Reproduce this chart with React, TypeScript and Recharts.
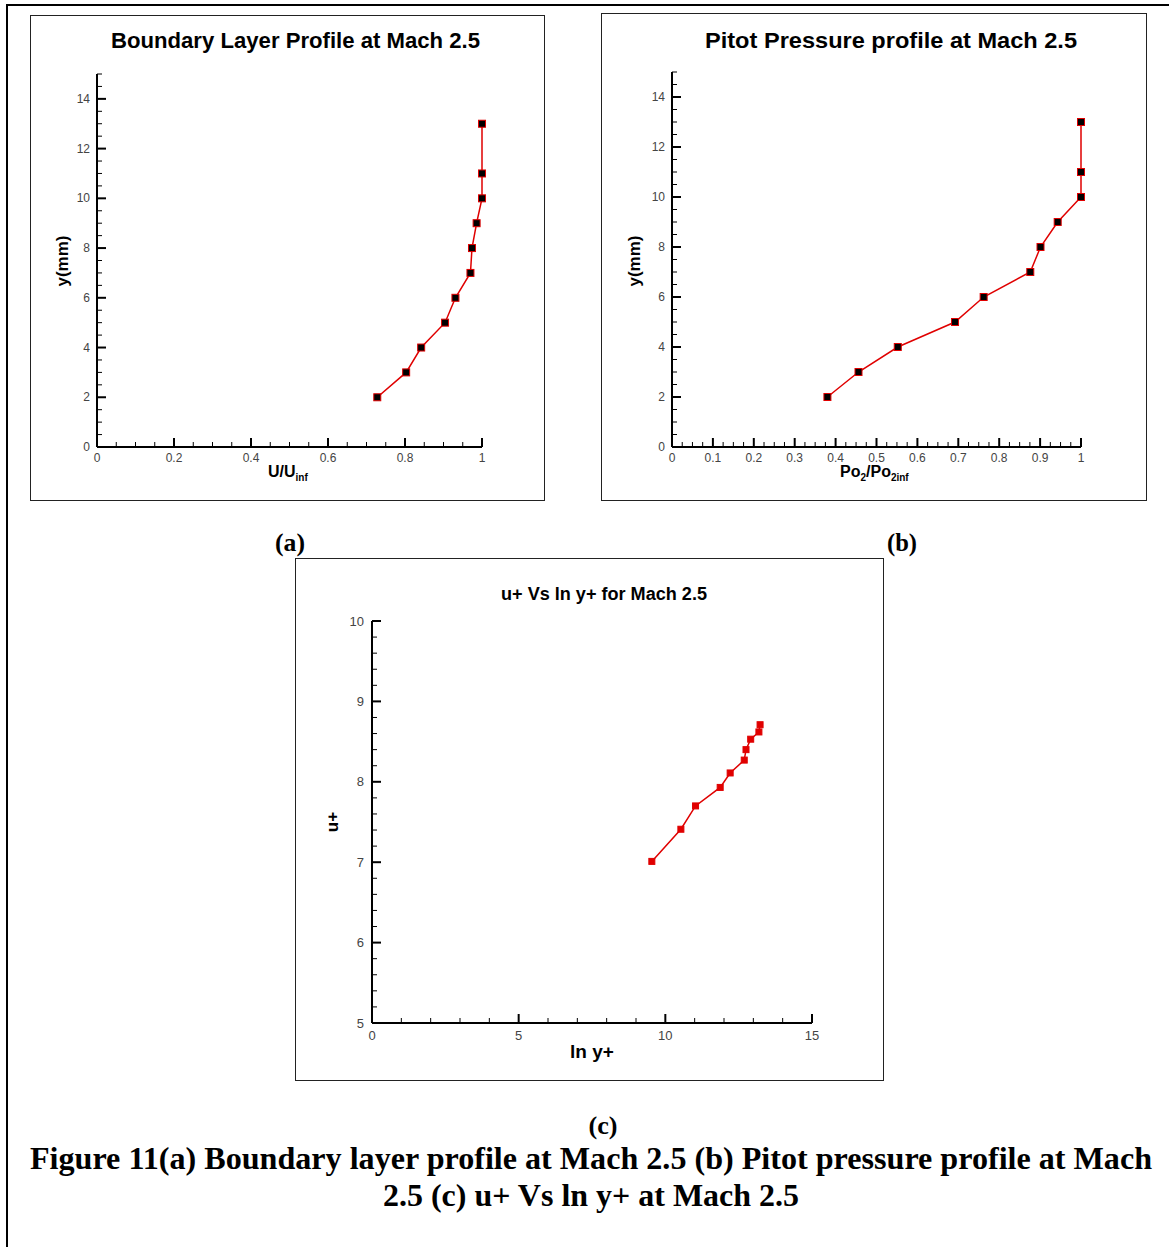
import React from 'react';
import { LineChart, Line, XAxis, YAxis } from 'recharts';

// ---------- data ----------
// (a) Boundary layer profile
const yMmA = [2, 3, 4, 5, 6, 7, 8, 9, 10, 11, 13];
const uRatioA = [0.728, 0.803, 0.842, 0.904, 0.931, 0.970, 0.974, 0.986, 1.0, 1.0, 1.0];
// (b) Pitot pressure profile
const yMmB = [2, 3, 4, 5, 6, 7, 8, 9, 10, 11, 13];
const pitotRatioB = [0.380, 0.456, 0.552, 0.692, 0.762, 0.876, 0.901, 0.943, 1.0, 1.0, 1.0];
// (c) u+ vs ln y+
const lnYPlusC = [9.54, 10.53, 11.03, 11.87, 12.21, 12.69, 12.75, 12.91, 13.19, 13.23];
const uPlusC = [7.01, 7.41, 7.70, 7.93, 8.11, 8.27, 8.40, 8.53, 8.62, 8.71];

// tick labels (major ticks)
const xMajorA = [0, 0.2, 0.4, 0.6, 0.8, 1];
const yMajorAB = [0, 2, 4, 6, 8, 10, 12, 14];
const xMajorB = [0, 0.1, 0.2, 0.3, 0.4, 0.5, 0.6, 0.7, 0.8, 0.9, 1];
const xMajorC = [0, 5, 10, 15];
const yMajorC = [5, 6, 7, 8, 9, 10];

const dataA = yMmA.map((y, i) => ({ x: uRatioA[i], y }));
const dataB = yMmB.map((y, i) => ({ x: pitotRatioB[i], y }));
const dataC = uPlusC.map((y, i) => ({ x: lnYPlusC[i], y }));

// minor tick positions (axis decoration only)
function steps(min: number, max: number, step: number): number[] {
  const out: number[] = [];
  const n = Math.round((max - min) / step);
  for (let i = 0; i <= n; i++) out.push(+(min + i * step).toFixed(6));
  return out;
}

const RED = '#e00000';
const SANS = '"Liberation Sans", Arial, sans-serif';
const SERIF = '"Liberation Serif", "Times New Roman", serif';

function fmt(v: number) {
  return String(+v.toFixed(4));
}

function makeTick(orient: 'x' | 'y', majors: number[], fontSize: number, off: number) {
  return (props: any) => {
    const { x, y, payload, index } = props;
    const v = payload.value as number;
    const isMajor = majors.some((m) => Math.abs(m - v) < 1e-6);
    const len = isMajor ? 9 : 5;
    if (orient === 'x') {
      return (
        <g key={'xt' + index}>
          <line x1={x} y1={y} x2={x} y2={y - len} stroke="#000" strokeWidth={isMajor ? 2 : 1} />
          {isMajor && (
            <text x={x} y={y + off} textAnchor="middle" dominantBaseline="central" fontSize={fontSize} fontFamily={SANS} fill="#444">
              {fmt(v)}
            </text>
          )}
        </g>
      );
    }
    return (
      <g key={'yt' + index}>
        <line x1={x} y1={y} x2={x + len} y2={y} stroke="#000" strokeWidth={isMajor ? 2 : 1} />
        {isMajor && (
          <text x={x - off} y={y} textAnchor="end" dominantBaseline="central" fontSize={fontSize} fontFamily={SANS} fill="#444">
            {fmt(v)}
          </text>
        )}
      </g>
    );
  };
}

const blackDot = (props: any) => (
  <rect key={'d' + props.index} x={props.cx - 3.5} y={props.cy - 3.5} width={7} height={7} fill="#000" stroke={RED} strokeWidth={1} />
);
const redDot = (props: any) => (
  <rect key={'r' + props.index} x={props.cx - 3} y={props.cy - 3} width={6} height={6} fill={RED} stroke={RED} strokeWidth={1} />
);

const abs = (left: number, top: number): React.CSSProperties => ({ position: 'absolute', left, top });

function CenterText(props: { x: number; y: number; size: number; bold?: boolean; family?: string; rotate?: boolean; children: React.ReactNode }) {
  return (
    <div
      style={{
        position: 'absolute',
        left: props.x,
        top: props.y,
        transform: `translate(-50%, -50%)${props.rotate ? ' rotate(-90deg)' : ''}`,
        fontSize: props.size,
        fontWeight: props.bold ? 'bold' : 'normal',
        fontFamily: props.family || SANS,
        whiteSpace: 'nowrap',
        lineHeight: 1,
        color: '#000',
      }}
    >
      {props.children}
    </div>
  );
}

type PanelProps = {
  left: number;
  top: number;
  width: number;
  height: number;
  margin: { top: number; right: number; bottom: number; left: number };
  data: { x: number; y: number }[];
  xDomain: [number, number];
  yDomain: [number, number];
  xTicks: number[];
  yTicks: number[];
  xMajor: number[];
  yMajor: number[];
  fontSize: number;
  xOff: number;
  yOff: number;
  dot: (p: any) => React.ReactElement;
};

function Panel(p: PanelProps) {
  return (
    <>
      <div style={{ ...abs(p.left, p.top), width: p.width, height: p.height, border: '1px solid #222', boxSizing: 'border-box' }} />
      <div style={{ ...abs(p.left, p.top) }}>
        <LineChart width={p.width} height={p.height} data={p.data} margin={p.margin}>
          <XAxis
            type="number"
            dataKey="x"
            domain={p.xDomain}
            ticks={p.xTicks}
            interval={0}
            tickSize={0}
            tickMargin={0}
            tickLine={false}
            axisLine={{ stroke: '#000', strokeWidth: 2 }}
            tick={makeTick('x', p.xMajor, p.fontSize, p.xOff)}
            height={30}
          />
          <YAxis
            type="number"
            dataKey="y"
            domain={p.yDomain}
            ticks={p.yTicks}
            interval={0}
            tickSize={0}
            tickMargin={0}
            tickLine={false}
            axisLine={{ stroke: '#000', strokeWidth: 2 }}
            tick={makeTick('y', p.yMajor, p.fontSize, p.yOff)}
            width={40}
          />
          <Line
            type="linear"
            dataKey="y"
            stroke={RED}
            strokeWidth={1.5}
            dot={p.dot}
            activeDot={false}
            isAnimationActive={false}
          />
        </LineChart>
      </div>
    </>
  );
}

function FitText(props: { x: number; y: number; size: number; len: number; family: string; children: string }) {
  return (
    <text
      x={props.x}
      y={props.y}
      textAnchor="middle"
      dominantBaseline="central"
      fontSize={props.size}
      fontWeight="bold"
      fontFamily={props.family}
      textLength={props.len}
      lengthAdjust="spacingAndGlyphs"
      fill="#000"
    >
      {props.children}
    </text>
  );
}

export default function App() {
  return (
    <div style={{ position: 'absolute', left: 0, top: 0, width: 1169, height: 1247, background: '#fff', overflow: 'hidden' }}>
      {/* page border (top and left) */}
      <div style={{ position: 'absolute', left: 6, top: 4, width: 1169, height: 2, background: '#000' }} />
      <div style={{ position: 'absolute', left: 6, top: 4, width: 2, height: 1247, background: '#000' }} />

      {/* (a) */}
      <Panel
        left={30}
        top={15}
        width={515}
        height={486}
        margin={{ top: 59, right: 63, bottom: 24, left: 27 }}
        data={dataA}
        xDomain={[0, 1]}
        yDomain={[0, 15]}
        xTicks={steps(0, 1, 0.05)}
        yTicks={steps(0, 15, 0.5)}
        xMajor={xMajorA}
        yMajor={yMajorAB}
        fontSize={12}
        xOff={11}
        yOff={7}
        dot={blackDot}
      />
      <CenterText x={62} y={261} size={17} bold rotate>y(mm)</CenterText>
      <div style={{ ...abs(268, 464), fontFamily: SANS, fontWeight: 'bold', fontSize: 16, lineHeight: 1, whiteSpace: 'nowrap' }}>
        U/U<sub style={{ fontSize: 10 }}>inf</sub>
      </div>

      {/* (b) */}
      <Panel
        left={601}
        top={13}
        width={546}
        height={488}
        margin={{ top: 59, right: 66, bottom: 24, left: 31 }}
        data={dataB}
        xDomain={[0, 1]}
        yDomain={[0, 15]}
        xTicks={steps(0, 1, 0.025)}
        yTicks={steps(0, 15, 0.5)}
        xMajor={xMajorB}
        yMajor={yMajorAB}
        fontSize={12}
        xOff={11}
        yOff={7}
        dot={blackDot}
      />
      <CenterText x={634} y={261} size={17} bold rotate>y(mm)</CenterText>
      <div style={{ ...abs(840, 464), fontFamily: SANS, fontWeight: 'bold', fontSize: 16, lineHeight: 1, whiteSpace: 'nowrap' }}>
        Po<sub style={{ fontSize: 10 }}>2</sub>/Po<sub style={{ fontSize: 10 }}>2inf</sub>
      </div>

      {/* (c) */}
      <Panel
        left={295}
        top={558}
        width={589}
        height={523}
        margin={{ top: 63, right: 72, bottom: 28, left: 37 }}
        data={dataC}
        xDomain={[0, 15]}
        yDomain={[5, 10]}
        xTicks={steps(0, 15, 1)}
        yTicks={steps(5, 10, 0.2)}
        xMajor={xMajorC}
        yMajor={yMajorC}
        fontSize={13}
        xOff={12}
        yOff={8}
        dot={redDot}
      />
      <CenterText x={332} y={822} size={17} bold rotate>u+</CenterText>
      <CenterText x={592} y={1051} size={19} bold>ln y+</CenterText>

      {/* titles and captions */}
      <svg width={1169} height={1247} style={{ position: 'absolute', left: 0, top: 0, pointerEvents: 'none' }}>
        <FitText x={295.5} y={40} size={22} len={369} family={SANS}>Boundary Layer Profile at Mach 2.5</FitText>
        <FitText x={891} y={40} size={22} len={372} family={SANS}>Pitot Pressure profile at Mach 2.5</FitText>
        <FitText x={604} y={594} size={18} len={206} family={SANS}>u+ Vs ln y+ for Mach 2.5</FitText>
        <FitText x={290} y={542} size={26} len={30} family={SERIF}>(a)</FitText>
        <FitText x={902} y={542} size={26} len={30} family={SERIF}>(b)</FitText>
        <FitText x={603} y={1125} size={26} len={29} family={SERIF}>(c)</FitText>
        <FitText x={591} y={1158} size={32} len={1122} family={SERIF}>
          Figure 11(a) Boundary layer profile at Mach 2.5 (b) Pitot pressure profile at Mach
        </FitText>
        <FitText x={591} y={1195} size={32} len={416} family={SERIF}>
          2.5 (c) u+ Vs ln y+ at Mach 2.5
        </FitText>
      </svg>
    </div>
  );
}
